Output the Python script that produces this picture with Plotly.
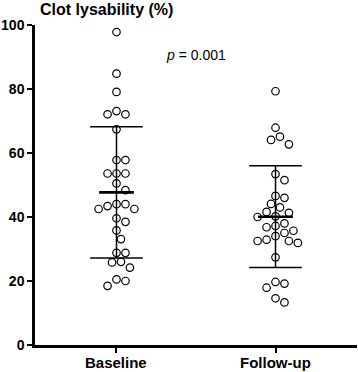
import plotly.graph_objects as go

# ---- data ----
categories = ["Baseline", "Follow-up"]
baseline = [97.8, 84.8, 79.1, 73.1, 72.1, 72.1, 67.4, 57.8, 57.8, 53.6, 53.6, 53.6,
            50.5, 48.4, 44.0, 42.5, 42.5, 43.4, 44.0, 38.5, 39.6, 35.8, 33.1, 28.8,
            28.8, 25.8, 26.0, 24.2, 20.5, 20.0, 18.5]
follow_up = [79.3, 67.9, 64.1, 65.1, 62.7, 53.4, 51.5, 46.6, 46.0, 43.0, 44.1, 41.3,
             41.6, 40.0, 40.2, 38.0, 36.8, 37.2, 35.7, 35.0, 32.9, 32.5, 31.9, 32.5,
             34.0, 27.4, 19.2, 17.9, 19.7, 13.3, 14.6]
means = [47.7, 40.1]
sd_upper = [68.2, 56.0]
sd_lower = [27.2, 24.2]
y_ticks = [0, 20, 40, 60, 80, 100]
p_text = "<i>p</i> = 0.001"
title_text = "Clot lysability (%)"

# ---- layout geometry ----
W, H = 358, 372
ML, MR, MT, MB = 33, 1, 25, 27
X_RANGE = [-0.5125, 1.5125]
Y_RANGE = [0, 100]
px_per_x = (W - ML - MR) / (X_RANGE[1] - X_RANGE[0])
px_per_y = (H - MT - MB) / (Y_RANGE[1] - Y_RANGE[0])

FONT = "Liberation Sans, Arial, sans-serif"


def swarm_offsets(vals, diam=9.0, step=4.5):
    """Greedy beeswarm: returns x offsets in data units."""
    order = sorted(range(len(vals)), key=lambda i: -vals[i])
    placed = []
    offs = [0.0] * len(vals)
    cands = [0.0] + [s * j * step for j in range(1, 30) for s in (1, -1)]
    for i in order:
        y = vals[i] * px_per_y
        for c in cands:
            if all((c - px) ** 2 + (y - py) ** 2 >= diam * diam - 1e-6 for px, py in placed):
                break
        placed.append((c, y))
        offs[i] = c / px_per_x
    return offs


fig = go.Figure()

series = [baseline, follow_up]
for ci, vals in enumerate(series):
    offs = swarm_offsets(vals)
    fig.add_trace(go.Scatter(x=[ci, ci], y=[sd_lower[ci], sd_upper[ci]], mode="lines",
                             line=dict(color="black", width=1.5), showlegend=False,
                             hoverinfo="skip"))
    sw = 26.5 / px_per_x
    for v in (sd_lower[ci], sd_upper[ci]):
        fig.add_trace(go.Scatter(x=[ci - sw, ci + sw], y=[v, v], mode="lines",
                                 line=dict(color="black", width=1.5), showlegend=False,
                                 hoverinfo="skip"))
    mw = 17.5 / px_per_x
    fig.add_trace(go.Scatter(x=[ci - mw, ci + mw], y=[means[ci], means[ci]], mode="lines",
                             line=dict(color="black", width=2.6), showlegend=False,
                             hoverinfo="skip"))
    fig.add_trace(go.Scatter(x=[ci + o for o in offs], y=vals, mode="markers",
                             marker=dict(size=7.5, color="rgba(255,255,255,0)",
                                         line=dict(color="black", width=1.2)),
                             showlegend=False))

fig.add_annotation(x=0.5, y=90.6, xref="x", yref="y", text=p_text, showarrow=False,
                   font=dict(family=FONT, size=14, color="black"))

# category labels
for ci, c in enumerate(categories):
    fig.add_annotation(x=ci, y=0, xref="x", yref="paper", yanchor="top", yshift=-7,
                       text="<b>" + c + "</b>", showarrow=False,
                       font=dict(family=FONT, size=15, color="black"))

fig.update_layout(
    width=W, height=H,
    margin=dict(l=ML, r=MR, t=MT, b=MB),
    paper_bgcolor="white", plot_bgcolor="white",
    font=dict(family=FONT, color="black"),
    title=dict(text="<b>" + title_text + "</b>", xref="container", yref="container",
               x=40 / W, xanchor="left", y=1 - 9.5 / H, yanchor="middle",
               font=dict(family=FONT, size=16, color="black")),
    xaxis=dict(range=X_RANGE, tickvals=[0, 1], showticklabels=False,
               showline=True, linecolor="black", linewidth=2.5, showgrid=False,
               zeroline=False, ticks="outside", ticklen=5, tickwidth=1.5,
               tickcolor="black"),
    yaxis=dict(range=Y_RANGE, tickvals=y_ticks,
               ticktext=["<b>%d</b>" % t for t in y_ticks],
               showline=True, linecolor="black", linewidth=2.5, showgrid=False,
               zeroline=False, ticks="outside", ticklen=5, tickwidth=1.5,
               tickcolor="black", tickfont=dict(family=FONT, size=14, color="black")),
)

fig.write_html("out.html", config={"displayModeBar": False},
               post_script="document.body.style.margin='0';")
